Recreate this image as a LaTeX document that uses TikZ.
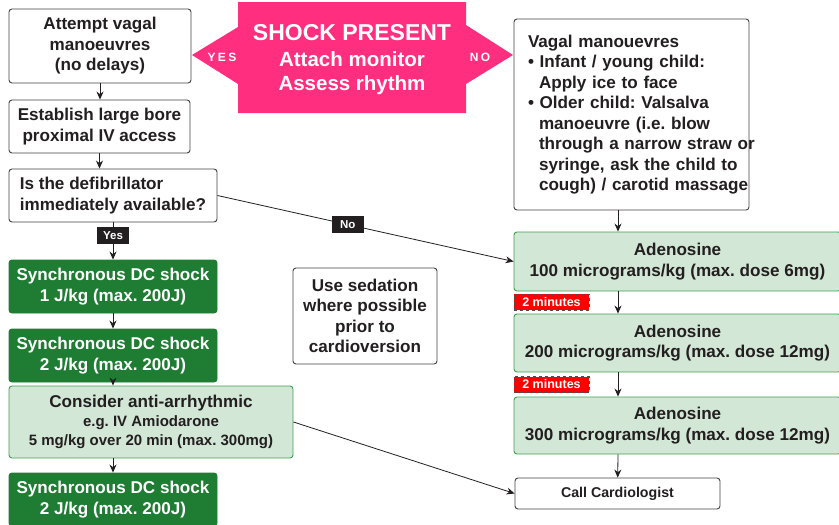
\documentclass[tikz,border=0pt]{standalone}
\usepackage{fontspec}
\setmainfont{Liberation Sans}
\usetikzlibrary{arrows.meta}
\frenchspacing
\definecolor{ink}{HTML}{231F20}
\definecolor{alarmpink}{HTML}{FF2E7E}
\definecolor{shockgreen}{HTML}{1E7D32}
\definecolor{drugfill}{HTML}{D3E7D6}
\definecolor{drugline}{HTML}{43A052}
\definecolor{timered}{HTML}{FF0000}
\newcommand{\bigtext}{\fontsize{17.1}{20.5}\selectfont\bfseries}
\newcommand{\hangline}[1]{\mbox{\hspace*{11pt}#1}}

\begin{document}
\begin{tikzpicture}[x=1pt,y=-1pt,
  stepbox/.style={draw=ink!85, line width=0.9pt, rounded corners=3pt, fill=white,
    inner sep=0pt, align=center, text=ink, font=\bigtext},
  shockbox/.style={stepbox, draw=shockgreen, fill=shockgreen, text=white,
    minimum width=208pt, minimum height=53pt},
  drugbox/.style={stepbox, draw=drugline, fill=drugfill},
  tagbox/.style={fill=ink, text=white, inner sep=0pt, minimum width=32pt,
    minimum height=17pt, font=\fontsize{11.5}{12}\selectfont\bfseries},
  timebox/.style={draw=ink!80, dashed, line width=0.7pt, fill=timered, text=white,
    inner sep=0pt, minimum width=75pt, minimum height=16pt,
    font=\fontsize{12.5}{13}\selectfont\bfseries},
  flow/.style={draw=ink, line width=0.8pt, -{Stealth[length=8pt,width=7pt]}}
]
\useasboundingbox (0,0) rectangle (839,525);

% shock present banner
\fill[alarmpink] (238,2) -- (466,2) -- (466,25) -- (513,55) -- (466,84) -- (466,113)
  -- (238,113) -- (238,84) -- (192,55) -- (238,27) -- cycle;
\node (shock) at (352,60) [align=center, text=white, font=\fontsize{20.5}{24}\selectfont\bfseries]
  {{\fontsize{23}{26}\selectfont SHOCK PRESENT}\\[2pt] Attach monitor\\ Assess rhythm};
\node (yes) at (222,57) [text=white, font=\fontsize{12}{12}\selectfont\bfseries\addfontfeature{LetterSpace=20}] {YES};
\node (no) at (480,57) [text=white, font=\fontsize{12}{12}\selectfont\bfseries\addfontfeature{LetterSpace=20}] {NO};

% left column
\node (vagal) at (100,46) [stepbox, minimum width=182pt, minimum height=74pt]
  {Attempt vagal\\ manoeuvres\\ (no delays)};
\node (ivaccess) at (99.5,126.5) [stepbox, minimum width=181pt, minimum height=53pt]
  {Establish large bore\\ proximal IV access};
\node (defib) at (113,195.5) [stepbox, minimum width=208pt, minimum height=53pt, align=left]
  {Is the defibrillator\\ immediately available?};
\node (shockA) at (113,286.5) [shockbox] {Synchronous DC shock\\ 1 J/kg (max. 200J)};
\node (shockB) at (113,355.5) [shockbox] {Synchronous DC shock\\ 2 J/kg (max. 200J)};
\node (antiarr) at (151,422) [drugbox, minimum width=284pt, minimum height=72pt,
  font=\fontsize{15}{19}\selectfont\bfseries]
  {{\bigtext Consider anti-arrhythmic}\\ e.g. IV Amiodarone\\ 5 mg/kg over 20 min (max. 300mg)};
\node (shockC) at (113,499.5) [shockbox] {Synchronous DC shock\\ 2 J/kg (max. 200J)};
\node (sedation) at (365,316) [stepbox, minimum width=144pt, minimum height=96pt]
  {Use sedation\\ where possible\\ prior to\\ cardioversion};

% right column
\node (manoeuvres) at (631.5,114.5) [stepbox, minimum width=235pt, minimum height=191pt,
  inner xsep=14pt, text width=207pt, align=left]
  {Vagal manouevres\\
   \mbox{\textbullet\ Infant / young child:}\\
   \hangline{Apply ice to face}\\
   \mbox{\textbullet\ Older child: Valsalva}\\
   \hangline{manoeuvre (i.e. blow}\\
   \hangline{through a narrow straw or}\\
   \hangline{syringe, ask the child to}\\
   \hangline{cough) / carotid massage}};
\node (adenA) at (677.5,261.5) [drugbox, minimum width=327pt, minimum height=59pt]
  {Adenosine\\ 100 micrograms/kg (max. dose 6mg)};
\node (adenB) at (677.5,343) [drugbox, minimum width=327pt, minimum height=58pt]
  {Adenosine\\ 200 micrograms/kg (max. dose 12mg)};
\node (adenC) at (677.5,425.5) [drugbox, minimum width=327pt, minimum height=57pt]
  {Adenosine\\ 300 micrograms/kg (max. dose 12mg)};
\node (waitA) at (551.5,302) [timebox] {2 minutes};
\node (waitB) at (551.5,384.5) [timebox] {2 minutes};
\node (cardio) at (617.5,493.5) [stepbox, minimum width=205pt, minimum height=31pt,
  font=\fontsize{14.2}{16}\selectfont\bfseries] {Call Cardiologist};
\coordinate (spine) at (618,0);

% connectors
\draw[flow] (vagal) -- (vagal.south |- ivaccess.north);
\draw[flow] (ivaccess) -- (ivaccess.south |- defib.north);
\draw[flow] (defib) -- (shockA) node[tagbox, pos=0.36] {Yes};
\draw[flow] (shockA) -- (shockB);
\draw[flow] (shockB.south) -- (shockB.south |- antiarr.north);
\draw[flow] (shockB.south |- antiarr.south) -- (shockC);
\draw[flow] (defib.east) -- (adenA.west) node[tagbox, pos=0.44] {No};
\draw[flow] (antiarr.east) -- (cardio.west);
\draw[flow] (spine |- manoeuvres.south) -- (spine |- adenA.north);
\draw[flow] (spine |- adenA.south) -- (spine |- adenB.north);
\draw[flow] (spine |- adenB.south) -- (spine |- adenC.north);
\draw[flow] (spine |- adenC.south) -- (cardio);
\end{tikzpicture}
\end{document}
